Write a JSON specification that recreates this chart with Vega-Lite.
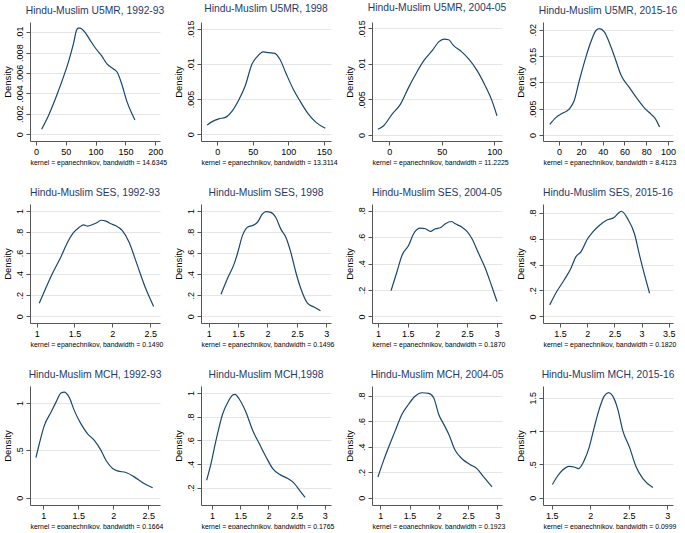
{
  "$schema": "https://vega.github.io/schema/vega-lite/v6.json",
  "background": "white",
  "padding": {"left": 2, "top": 3, "right": 0, "bottom": 0},
  "datasets": {
    "u5mr_1992": [
      {"value": 9.5, "density": 0.0005}, {"value": 20.7, "density": 0.0018}, {"value": 34.7, "density": 0.0038},
      {"value": 46, "density": 0.0056}, {"value": 54, "density": 0.0070}, {"value": 63, "density": 0.0089},
      {"value": 68, "density": 0.0102}, {"value": 71, "density": 0.0104}, {"value": 74, "density": 0.0104},
      {"value": 82, "density": 0.0100}, {"value": 91, "density": 0.0092}, {"value": 99, "density": 0.0085},
      {"value": 110, "density": 0.0077}, {"value": 119, "density": 0.0069}, {"value": 130, "density": 0.0064},
      {"value": 136, "density": 0.0061}, {"value": 144, "density": 0.0049}, {"value": 152, "density": 0.0033},
      {"value": 161, "density": 0.0020}, {"value": 166, "density": 0.0014}
    ],
    "u5mr_1998": [
      {"value": -14, "density": 0.00133}, {"value": -7, "density": 0.0018}, {"value": 2.3, "density": 0.0022},
      {"value": 11.6, "density": 0.0024}, {"value": 21, "density": 0.0033}, {"value": 30, "density": 0.0048},
      {"value": 39.5, "density": 0.0069}, {"value": 49, "density": 0.0100}, {"value": 56, "density": 0.0110},
      {"value": 65, "density": 0.0117}, {"value": 72, "density": 0.0116}, {"value": 81, "density": 0.0115},
      {"value": 88, "density": 0.0107}, {"value": 97, "density": 0.0086}, {"value": 107, "density": 0.0064},
      {"value": 116, "density": 0.0048}, {"value": 128, "density": 0.0029}, {"value": 139, "density": 0.0017},
      {"value": 152, "density": 0.00086}
    ],
    "u5mr_2004": [
      {"value": -10.8, "density": 0.0008}, {"value": -5.4, "density": 0.0013}, {"value": 2.5, "density": 0.0029},
      {"value": 10.5, "density": 0.0043}, {"value": 18.4, "density": 0.0067}, {"value": 26, "density": 0.0088},
      {"value": 33, "density": 0.0105}, {"value": 41, "density": 0.0119}, {"value": 47, "density": 0.0131},
      {"value": 52, "density": 0.0135}, {"value": 56.5, "density": 0.0134}, {"value": 61, "density": 0.0126},
      {"value": 69, "density": 0.0117}, {"value": 75.5, "density": 0.0107}, {"value": 83.5, "density": 0.0091},
      {"value": 91.4, "density": 0.0069}, {"value": 97.8, "density": 0.0048}, {"value": 102.5, "density": 0.0027}
    ],
    "u5mr_2015": [
      {"value": -8.6, "density": 0.0020}, {"value": -3, "density": 0.0033}, {"value": 3, "density": 0.0041},
      {"value": 9.2, "density": 0.0049}, {"value": 13.8, "density": 0.0065}, {"value": 18.5, "density": 0.0103},
      {"value": 24.6, "density": 0.0148}, {"value": 29, "density": 0.0176}, {"value": 34, "density": 0.0199},
      {"value": 37, "density": 0.0202}, {"value": 41.5, "density": 0.0196}, {"value": 46, "density": 0.0176},
      {"value": 51, "density": 0.0148}, {"value": 57, "density": 0.0113}, {"value": 64.6, "density": 0.0090},
      {"value": 72, "density": 0.0068}, {"value": 78.5, "density": 0.0051}, {"value": 84.6, "density": 0.0039},
      {"value": 88, "density": 0.0032}, {"value": 92.3, "density": 0.0015}
    ],
    "ses_1992": [
      {"value": 1.035, "density": 0.125}, {"value": 1.12, "density": 0.266}, {"value": 1.21, "density": 0.408},
      {"value": 1.32, "density": 0.564}, {"value": 1.41, "density": 0.705}, {"value": 1.476, "density": 0.784},
      {"value": 1.564, "density": 0.846}, {"value": 1.62, "density": 0.868}, {"value": 1.674, "density": 0.856},
      {"value": 1.74, "density": 0.871}, {"value": 1.806, "density": 0.893}, {"value": 1.85, "density": 0.912},
      {"value": 1.916, "density": 0.903}, {"value": 1.98, "density": 0.878}, {"value": 2.04, "density": 0.862},
      {"value": 2.13, "density": 0.815}, {"value": 2.22, "density": 0.705}, {"value": 2.33, "density": 0.486},
      {"value": 2.44, "density": 0.266}, {"value": 2.546, "density": 0.094}
    ],
    "ses_1998": [
      {"value": 1.21, "density": 0.21}, {"value": 1.32, "density": 0.36}, {"value": 1.435, "density": 0.50},
      {"value": 1.49, "density": 0.596}, {"value": 1.576, "density": 0.768}, {"value": 1.66, "density": 0.846},
      {"value": 1.746, "density": 0.862}, {"value": 1.83, "density": 0.893}, {"value": 1.915, "density": 0.972},
      {"value": 1.97, "density": 0.994}, {"value": 2.056, "density": 0.987}, {"value": 2.14, "density": 0.94},
      {"value": 2.225, "density": 0.83}, {"value": 2.31, "density": 0.752}, {"value": 2.395, "density": 0.611},
      {"value": 2.48, "density": 0.423}, {"value": 2.565, "density": 0.266}, {"value": 2.68, "density": 0.125},
      {"value": 2.79, "density": 0.088}, {"value": 2.9, "density": 0.053}
    ],
    "ses_2004": [
      {"value": 1.22, "density": 0.195}, {"value": 1.32, "density": 0.338}, {"value": 1.405, "density": 0.4625},
      {"value": 1.517, "density": 0.5375}, {"value": 1.6, "density": 0.625}, {"value": 1.713, "density": 0.6675},
      {"value": 1.8, "density": 0.6625}, {"value": 1.882, "density": 0.6425}, {"value": 1.966, "density": 0.6625},
      {"value": 2.05, "density": 0.67}, {"value": 2.135, "density": 0.70}, {"value": 2.236, "density": 0.7175},
      {"value": 2.303, "density": 0.70}, {"value": 2.416, "density": 0.675}, {"value": 2.5, "density": 0.6425},
      {"value": 2.584, "density": 0.5875}, {"value": 2.697, "density": 0.475}, {"value": 2.81, "density": 0.3625},
      {"value": 2.91, "density": 0.2375}, {"value": 3.006, "density": 0.1125}
    ],
    "ses_2015": [
      {"value": 1.309, "density": 0.089}, {"value": 1.42, "density": 0.179}, {"value": 1.574, "density": 0.281},
      {"value": 1.698, "density": 0.370}, {"value": 1.79, "density": 0.46}, {"value": 1.883, "density": 0.498},
      {"value": 2.006, "density": 0.60}, {"value": 2.1, "density": 0.651}, {"value": 2.222, "density": 0.702},
      {"value": 2.346, "density": 0.741}, {"value": 2.5, "density": 0.766}, {"value": 2.593, "density": 0.805},
      {"value": 2.63, "density": 0.812}, {"value": 2.747, "density": 0.753}, {"value": 2.87, "density": 0.638},
      {"value": 2.963, "density": 0.473}, {"value": 3.056, "density": 0.32}, {"value": 3.148, "density": 0.179}
    ],
    "mch_1992": [
      {"value": 0.895, "density": 0.423}, {"value": 0.943, "density": 0.57}, {"value": 1.014, "density": 0.762},
      {"value": 1.11, "density": 0.902}, {"value": 1.18, "density": 1.007}, {"value": 1.252, "density": 1.105},
      {"value": 1.3, "density": 1.115}, {"value": 1.37, "density": 1.06}, {"value": 1.443, "density": 0.92},
      {"value": 1.538, "density": 0.78}, {"value": 1.633, "density": 0.675}, {"value": 1.729, "density": 0.605},
      {"value": 1.824, "density": 0.50}, {"value": 1.895, "density": 0.395}, {"value": 1.99, "density": 0.308},
      {"value": 2.062, "density": 0.283}, {"value": 2.18, "density": 0.266}, {"value": 2.3, "density": 0.22},
      {"value": 2.42, "density": 0.157}, {"value": 2.562, "density": 0.105}
    ],
    "mch_1998": [
      {"value": 0.905, "density": 0.264}, {"value": 0.982, "density": 0.405}, {"value": 1.071, "density": 0.60},
      {"value": 1.189, "density": 0.823}, {"value": 1.278, "density": 0.919}, {"value": 1.367, "density": 0.983},
      {"value": 1.408, "density": 0.989}, {"value": 1.485, "density": 0.947}, {"value": 1.604, "density": 0.836},
      {"value": 1.722, "density": 0.683}, {"value": 1.84, "density": 0.571}, {"value": 1.959, "density": 0.46},
      {"value": 2.077, "density": 0.362}, {"value": 2.195, "density": 0.314}, {"value": 2.343, "density": 0.278},
      {"value": 2.462, "density": 0.236}, {"value": 2.55, "density": 0.18}, {"value": 2.65, "density": 0.119}
    ],
    "mch_2004": [
      {"value": 0.96, "density": 0.163}, {"value": 1.057, "density": 0.293}, {"value": 1.142, "density": 0.396},
      {"value": 1.256, "density": 0.526}, {"value": 1.37, "density": 0.655}, {"value": 1.484, "density": 0.733},
      {"value": 1.598, "density": 0.797}, {"value": 1.712, "density": 0.823}, {"value": 1.826, "density": 0.818},
      {"value": 1.912, "density": 0.784}, {"value": 1.997, "density": 0.655}, {"value": 2.083, "density": 0.577},
      {"value": 2.168, "density": 0.50}, {"value": 2.282, "density": 0.37}, {"value": 2.396, "density": 0.306},
      {"value": 2.538, "density": 0.259}, {"value": 2.652, "density": 0.228}, {"value": 2.766, "density": 0.163},
      {"value": 2.909, "density": 0.085}
    ],
    "mch_2015": [
      {"value": 1.509, "density": 0.199}, {"value": 1.574, "density": 0.323}, {"value": 1.639, "density": 0.412},
      {"value": 1.726, "density": 0.472}, {"value": 1.791, "density": 0.462}, {"value": 1.848, "density": 0.437},
      {"value": 1.922, "density": 0.561}, {"value": 1.987, "density": 0.76}, {"value": 2.052, "density": 1.058},
      {"value": 2.117, "density": 1.331}, {"value": 2.183, "density": 1.529}, {"value": 2.239, "density": 1.579},
      {"value": 2.291, "density": 1.529}, {"value": 2.357, "density": 1.331}, {"value": 2.422, "density": 1.008},
      {"value": 2.509, "density": 0.76}, {"value": 2.596, "density": 0.462}, {"value": 2.683, "density": 0.288},
      {"value": 2.813, "density": 0.154}
    ]
  },
  "bounds": "flush",
  "spacing": 182,
  "vconcat": [
    {
      "bounds": "flush",
      "spacing": 41,
      "hconcat": [
        {
          "title": "Hindu-Muslim U5MR, 1992-93",
          "width": 130, "height": 119,
          "data": {"name": "u5mr_1992"},
          "mark": {"type": "line", "interpolate": "monotone"},
          "encoding": {
            "x": {"field": "value", "type": "quantitative", "scale": {"domain": [-10, 208], "nice": false, "zero": false},
                  "axis": {"values": [0, 50, 100, 150, 200], "title": "kernel = epanechnikov, bandwidth = 14.6345"}},
            "y": {"field": "density", "type": "quantitative", "scale": {"domain": [-0.00066, 0.011], "nice": false, "zero": false},
                  "axis": {"values": [0, 0.002, 0.004, 0.006, 0.008, 0.01], "title": "Density"}}
          }
        },
        {
          "title": "Hindu-Muslim U5MR, 1998",
          "width": 130, "height": 119,
          "data": {"name": "u5mr_1998"},
          "mark": {"type": "line", "interpolate": "monotone"},
          "encoding": {
            "x": {"field": "value", "type": "quantitative", "scale": {"domain": [-22.7, 160], "nice": false, "zero": false},
                  "axis": {"values": [0, 50, 100, 150], "title": "kernel = epanechnikov, bandwidth = 13.3114"}},
            "y": {"field": "density", "type": "quantitative", "scale": {"domain": [-0.00095, 0.01595], "nice": false, "zero": false},
                  "axis": {"values": [0, 0.005, 0.01, 0.015], "title": "Density"}}
          }
        },
        {
          "title": "Hindu-Muslim U5MR, 2004-05",
          "width": 130, "height": 119,
          "data": {"name": "u5mr_2004"},
          "mark": {"type": "line", "interpolate": "monotone"},
          "encoding": {
            "x": {"field": "value", "type": "quantitative", "scale": {"domain": [-16.5, 107.3], "nice": false, "zero": false},
                  "axis": {"values": [0, 50, 100], "title": "kernel = epanechnikov, bandwidth = 11.2225"}},
            "y": {"field": "density", "type": "quantitative", "scale": {"domain": [-0.00085, 0.0159], "nice": false, "zero": false},
                  "axis": {"values": [0, 0.005, 0.01, 0.015], "title": "Density"}}
          }
        },
        {
          "title": "Hindu-Muslim U5MR, 2015-16",
          "width": 130, "height": 119,
          "data": {"name": "u5mr_2015"},
          "mark": {"type": "line", "interpolate": "monotone"},
          "encoding": {
            "x": {"field": "value", "type": "quantitative", "scale": {"domain": [-14.8, 104.6], "nice": false, "zero": false},
                  "axis": {"values": [0, 20, 40, 60, 80, 100], "title": "kernel = epanechnikov, bandwidth = 8.4123"}},
            "y": {"field": "density", "type": "quantitative", "scale": {"domain": [-0.00115, 0.02146], "nice": false, "zero": false},
                  "axis": {"values": [0, 0.005, 0.01, 0.015, 0.02], "title": "Density"}}
          }
        }
      ]
    },
    {
      "bounds": "flush",
      "spacing": 41,
      "hconcat": [
        {
          "title": "Hindu-Muslim SES, 1992-93",
          "width": 130, "height": 119,
          "data": {"name": "ses_1992"},
          "mark": {"type": "line", "interpolate": "monotone"},
          "encoding": {
            "x": {"field": "value", "type": "quantitative", "scale": {"domain": [0.912, 2.63], "nice": false, "zero": false},
                  "axis": {"values": [1, 1.5, 2, 2.5], "title": "kernel = epanechnikov, bandwidth = 0.1490"}},
            "y": {"field": "density", "type": "quantitative", "scale": {"domain": [-0.063, 1.066], "nice": false, "zero": false},
                  "axis": {"values": [0, 0.2, 0.4, 0.6, 0.8, 1], "title": "Density"}}
          }
        },
        {
          "title": "Hindu-Muslim SES, 1998",
          "width": 130, "height": 119,
          "data": {"name": "ses_1998"},
          "mark": {"type": "line", "interpolate": "monotone"},
          "encoding": {
            "x": {"field": "value", "type": "quantitative", "scale": {"domain": [0.87, 3.08], "nice": false, "zero": false},
                  "axis": {"values": [1, 1.5, 2, 2.5, 3], "title": "kernel = epanechnikov, bandwidth = 0.1496"}},
            "y": {"field": "density", "type": "quantitative", "scale": {"domain": [-0.063, 1.066], "nice": false, "zero": false},
                  "axis": {"values": [0, 0.2, 0.4, 0.6, 0.8, 1], "title": "Density"}}
          }
        },
        {
          "title": "Hindu-Muslim SES, 2004-05",
          "width": 130, "height": 119,
          "data": {"name": "ses_2004"},
          "mark": {"type": "line", "interpolate": "monotone"},
          "encoding": {
            "x": {"field": "value", "type": "quantitative", "scale": {"domain": [0.899, 3.09], "nice": false, "zero": false},
                  "axis": {"values": [1, 1.5, 2, 2.5, 3], "title": "kernel = epanechnikov, bandwidth = 0.1870"}},
            "y": {"field": "density", "type": "quantitative", "scale": {"domain": [-0.05, 0.85], "nice": false, "zero": false},
                  "axis": {"values": [0, 0.2, 0.4, 0.6, 0.8], "title": "Density"}}
          }
        },
        {
          "title": "Hindu-Muslim SES, 2015-16",
          "width": 130, "height": 119,
          "data": {"name": "ses_2015"},
          "mark": {"type": "line", "interpolate": "monotone"},
          "encoding": {
            "x": {"field": "value", "type": "quantitative", "scale": {"domain": [1.185, 3.58], "nice": false, "zero": false},
                  "axis": {"values": [1.5, 2, 2.5, 3, 3.5], "title": "kernel = epanechnikov, bandwidth = 0.1820"}},
            "y": {"field": "density", "type": "quantitative", "scale": {"domain": [-0.051, 0.868], "nice": false, "zero": false},
                  "axis": {"values": [0, 0.2, 0.4, 0.6, 0.8], "title": "Density"}}
          }
        }
      ]
    },
    {
      "bounds": "flush",
      "spacing": 41,
      "hconcat": [
        {
          "title": "Hindu-Muslim MCH, 1992-93",
          "width": 130, "height": 119,
          "data": {"name": "mch_1992"},
          "mark": {"type": "line", "interpolate": "monotone"},
          "encoding": {
            "x": {"field": "value", "type": "quantitative", "scale": {"domain": [0.81, 2.667], "nice": false, "zero": false},
                  "axis": {"values": [1, 1.5, 2, 2.5], "title": "kernel = epanechnikov, bandwidth = 0.1664"}},
            "y": {"field": "density", "type": "quantitative", "scale": {"domain": [-0.077, 1.18], "nice": false, "zero": false},
                  "axis": {"values": [0, 0.5, 1], "title": "Density"}}
          }
        },
        {
          "title": "Hindu-Muslim MCH,1998",
          "width": 130, "height": 119,
          "data": {"name": "mch_1998"},
          "mark": {"type": "line", "interpolate": "monotone"},
          "encoding": {
            "x": {"field": "value", "type": "quantitative", "scale": {"domain": [0.805, 3.11], "nice": false, "zero": false},
                  "axis": {"values": [1, 1.5, 2, 2.5, 3], "title": "kernel = epanechnikov, bandwidth = 0.1765"}},
            "y": {"field": "density", "type": "quantitative", "scale": {"domain": [0.055, 1.059], "nice": false, "zero": false},
                  "axis": {"values": [0.2, 0.4, 0.6, 0.8, 1], "title": "Density"}}
          }
        },
        {
          "title": "Hindu-Muslim MCH, 2004-05",
          "width": 130, "height": 119,
          "data": {"name": "mch_2004"},
          "mark": {"type": "line", "interpolate": "monotone"},
          "encoding": {
            "x": {"field": "value", "type": "quantitative", "scale": {"domain": [0.858, 3.08], "nice": false, "zero": false},
                  "axis": {"values": [1, 1.5, 2, 2.5, 3], "title": "kernel = epanechnikov, bandwidth = 0.1923"}},
            "y": {"field": "density", "type": "quantitative", "scale": {"domain": [-0.057, 0.876], "nice": false, "zero": false},
                  "axis": {"values": [0, 0.2, 0.4, 0.6, 0.8], "title": "Density"}}
          }
        },
        {
          "title": "Hindu-Muslim MCH, 2015-16",
          "width": 130, "height": 119,
          "data": {"name": "mch_2015"},
          "mark": {"type": "line", "interpolate": "monotone"},
          "encoding": {
            "x": {"field": "value", "type": "quantitative", "scale": {"domain": [1.387, 3.074], "nice": false, "zero": false},
                  "axis": {"values": [1.5, 2, 2.5, 3], "title": "kernel = epanechnikov, bandwidth = 0.0999"}},
            "y": {"field": "density", "type": "quantitative", "scale": {"domain": [-0.109, 1.678], "nice": false, "zero": false},
                  "axis": {"values": [0, 0.5, 1, 1.5], "title": "Density"}}
          }
        }
      ]
    }
  ],
  "config": {
    "view": {"stroke": null},
    "line": {"color": "#1a476f", "strokeWidth": 1.2},
    "title": {"font": "Liberation Sans", "fontSize": 10.3, "fontWeight": "normal", "color": "#1f3a68", "offset": 6, "anchor": "middle", "frame": "group"},
    "axis": {
      "labelFont": "Liberation Sans",
      "titleFont": "Liberation Sans",
      "labelFontSize": 9,
      "labelColor": "#000000",
      "titleColor": "#000000",
      "titleFontWeight": "normal",
      "domainColor": "#555555",
      "tickColor": "#555555",
      "tickSize": 4,
      "gridColor": "#e6e6e6",
      "labelOverlap": false,
      "labelFlush": false,
      "format": "~f"
    },
    "axisX": {"grid": false, "titleFontSize": 6.9, "titleAnchor": "start", "titlePadding": 3, "labelPadding": 2},
    "axisY": {
      "grid": true,
      "titleFontSize": 9.5,
      "titlePadding": 3,
      "labelAngle": -90,
      "labelAlign": "center",
      "labelBaseline": "bottom",
      "labelPadding": 2,
      "labelExpr": "replace(datum.label, '0.', '.')"
    }
  }
}
